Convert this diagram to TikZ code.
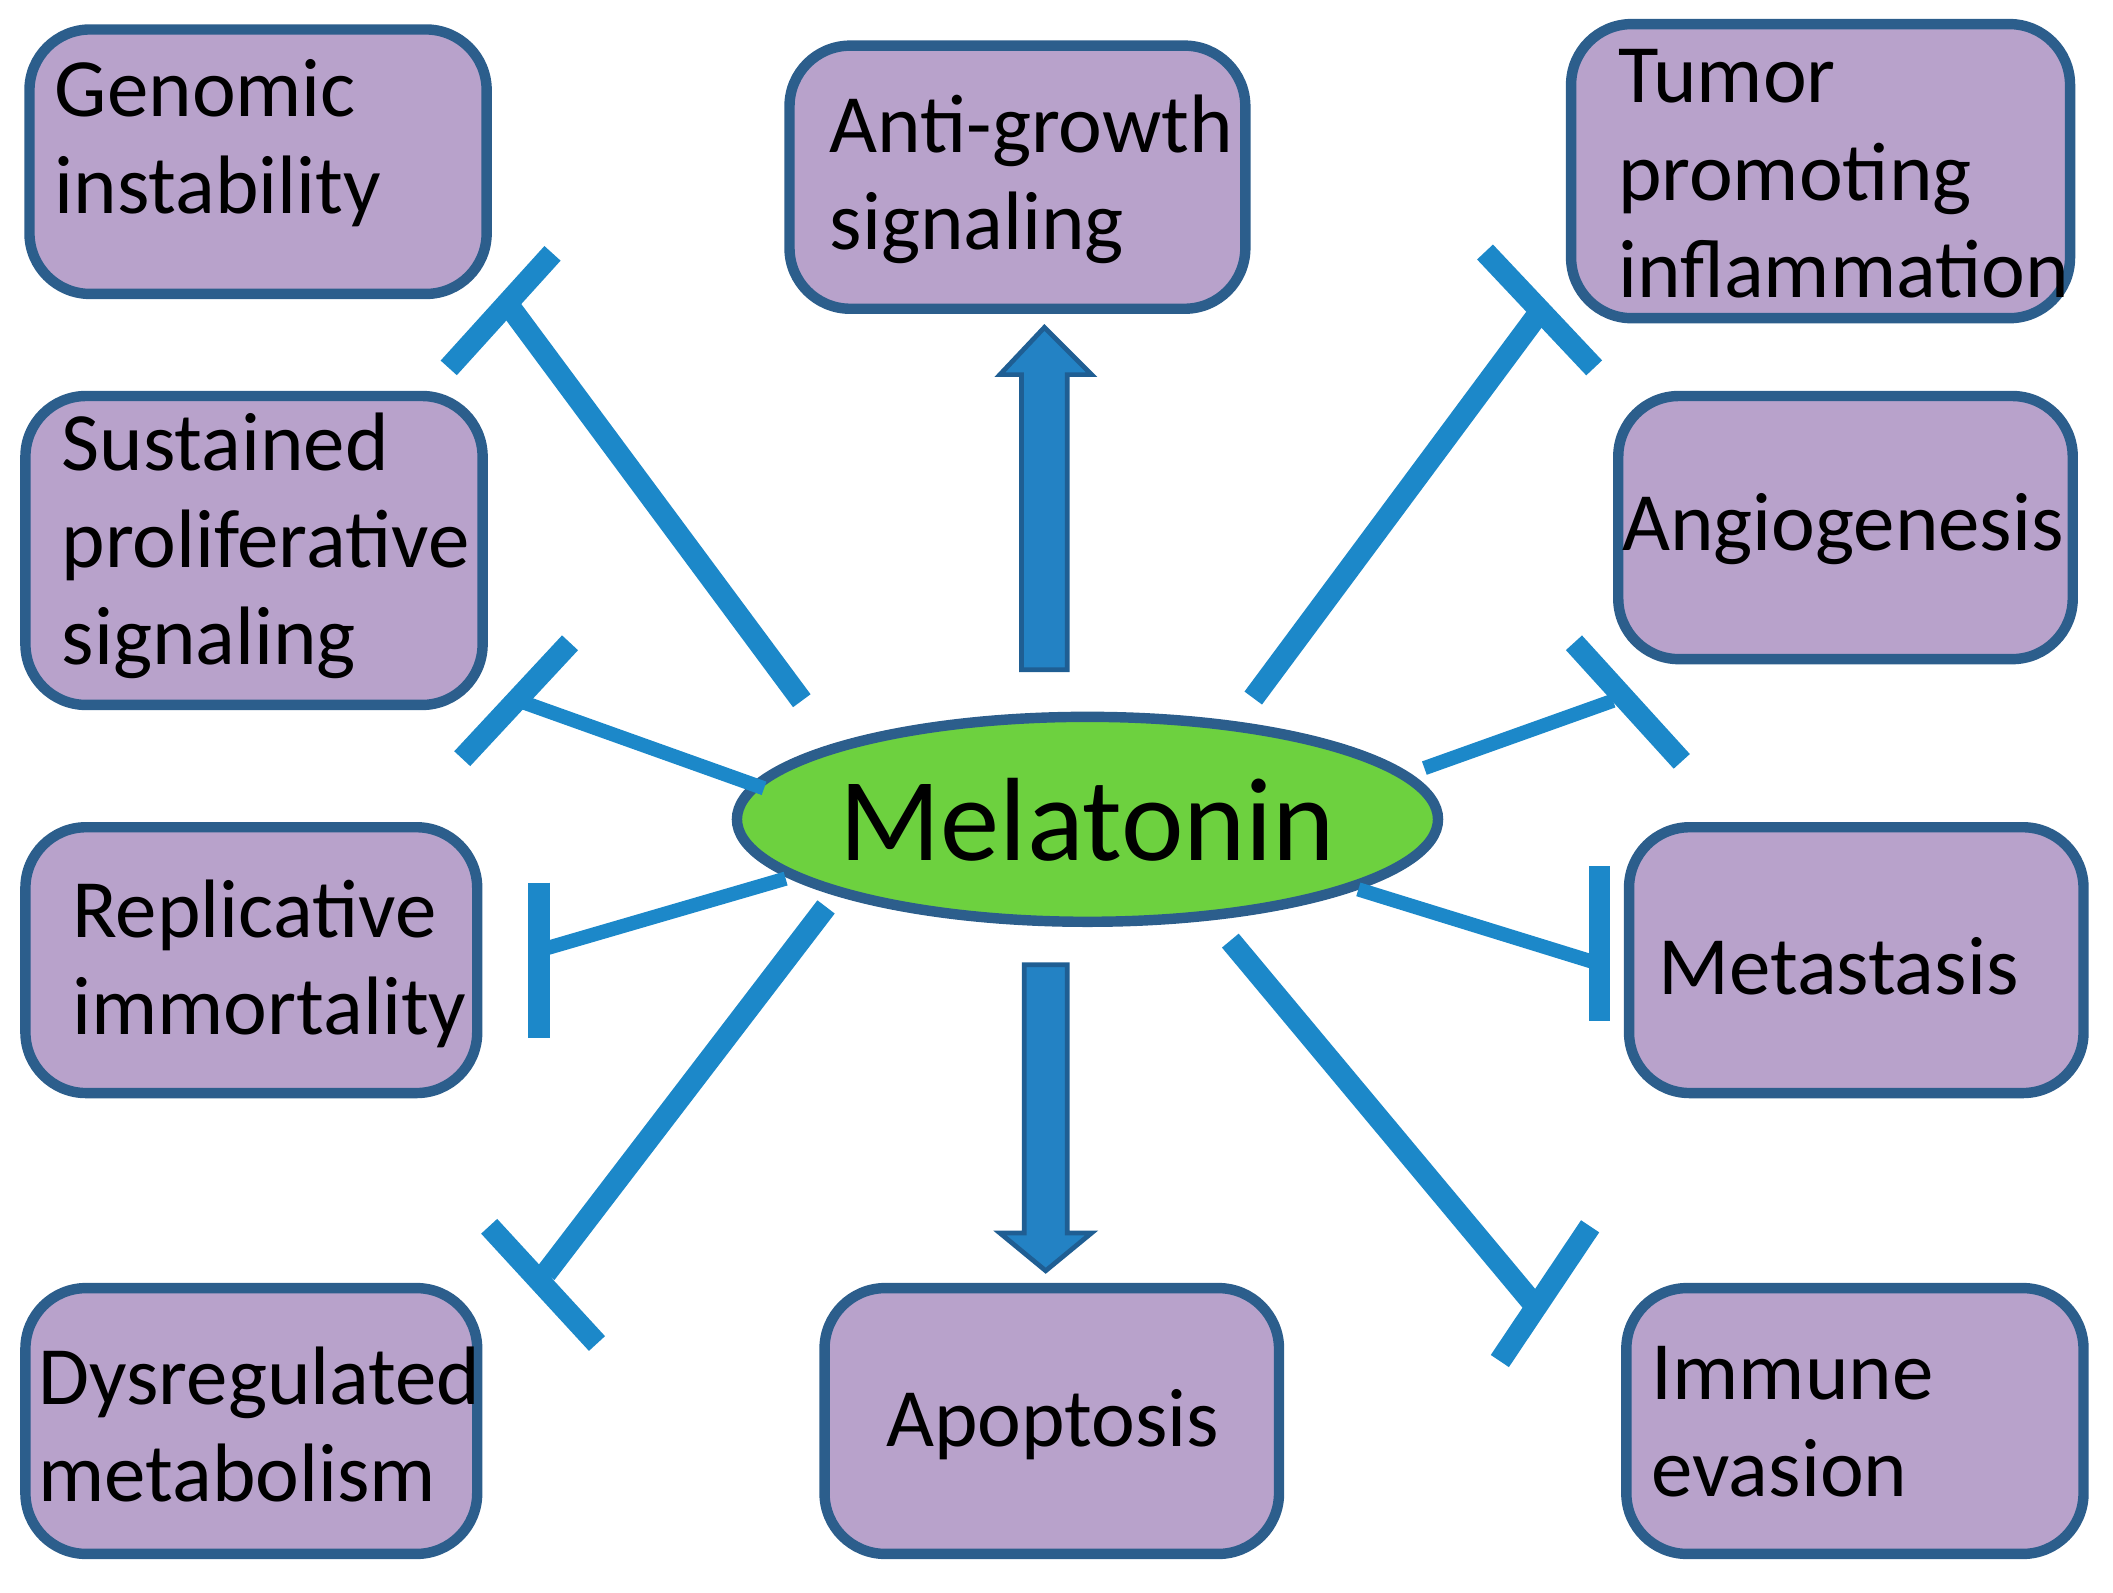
\documentclass[tikz,border=0pt]{standalone}
\usetikzlibrary{shapes.geometric}
\usepackage{fontspec}
\setmainfont{Carlito}
\begin{document}
\begin{tikzpicture}[x=0.01cm,y=-0.01cm,
 box/.style={draw=boxb,line width=2.2pt,fill=boxf,rounded corners=0.45cm,inner sep=0},
 txt/.style={anchor=west,align=left,font=\fontsize{17.5pt}{20.5pt}\selectfont,inner sep=0},
 inh/.style={draw=lineb,line width=4.6pt},
 inht/.style={draw=lineb,line width=3pt}]
\definecolor{boxf}{HTML}{B8A2CB}
\definecolor{boxb}{HTML}{2C5E8C}
\definecolor{lineb}{HTML}{1C88C9}
\definecolor{arrf}{HTML}{2382C4}
\definecolor{arrb}{HTML}{1F5E93}
\definecolor{ellf}{HTML}{6DD13F}
\useasboundingbox (0,0) rectangle (1568,1182);
\newcommand\bx[5]{\node[box,minimum width=#3*0.01cm-2.2pt,minimum height=#4*0.01cm-2.2pt,anchor=north west] (#5) at (#1,#2) {};}
\bx{18}{18}{347}{204}{gen}
\bx{582}{30}{346}{203}{anti}
\bx{1162}{14}{378}{226}{tum}
\bx{15}{290}{347}{237}{sus}
\bx{1197}{290}{345}{203}{ang}
\bx{15}{610}{343}{205}{rep}
\bx{1205}{610}{345}{205}{met}
\bx{15}{952}{343}{205}{dys}
\bx{608}{952}{345}{205}{apo}
\bx{1203}{952}{347}{205}{imm}
\node[txt] (tgen) at (40,106) {Genomic\\instability};
\node[txt] (tanti) at (615,133) {Anti-growth\\signaling};
\node[txt] (ttum) at (1200,129) {Tumor\\promoting\\inflammation};
\node[txt] (tsus) at (45,405) {Sustained\\proliferative\\signaling};
\node[txt] (tang) at (1203,393) {Angiogenesis};
\node[txt] (trep) at (53,715) {Replicative\\immortality};
\node[txt] (tmet) at (1230,717) {Metastasis};
\node[txt] (tdys) at (28,1057) {Dysregulated\\metabolism};
\node[txt] (tapo) at (657,1057) {Apoptosis};
\node[txt] (timm) at (1225,1055) {Immune\\evasion};
\node[draw=boxb,line width=2.2pt,fill=ellf,ellipse,minimum width=4.64cm,minimum height=1.52cm,inner sep=0,font=\fontsize{25pt}{30pt}\selectfont] (mel) at (807,608) {Melatonin};
% inhibition connectors
\coordinate (g1) at (595,520); \coordinate (g2) at (380,230); \coordinate (gb1) at (333,273); \coordinate (gb2) at (410,188);
\draw[inh] (g1)--(g2); \draw[inh] (gb1)--(gb2);
\coordinate (s1) at (567,585); \coordinate (s2) at (385,520); \coordinate (sb1) at (343,563); \coordinate (sb2) at (423,477);
\draw[inht] (s1)--(s2); \draw[inh] (sb1)--(sb2);
\coordinate (r1) at (583,652); \coordinate (r2) at (401,705); \coordinate (rb1) at (400,655); \coordinate (rb2) at (400,770);
\draw[inht] (r1)--(r2); \draw[inh] (rb1)--(rb2);
\coordinate (d1) at (613,673); \coordinate (d2) at (405,945); \coordinate (db1) at (363,910); \coordinate (db2) at (443,997);
\draw[inh] (d1)--(d2); \draw[inh] (db1)--(db2);
\coordinate (t1) at (930,518); \coordinate (t2) at (1140,235); \coordinate (tb1) at (1102,187); \coordinate (tb2) at (1183,273);
\draw[inh] (t1)--(t2); \draw[inh] (tb1)--(tb2);
\coordinate (a1) at (1057,570); \coordinate (a2) at (1197,520); \coordinate (ab1) at (1168,477); \coordinate (ab2) at (1248,565);
\draw[inht] (a1)--(a2); \draw[inh] (ab1)--(ab2);
\coordinate (m1) at (1008,660); \coordinate (m2) at (1186,715); \coordinate (mb1) at (1187,643); \coordinate (mb2) at (1187,758);
\draw[inht] (m1)--(m2); \draw[inh] (mb1)--(mb2);
\coordinate (i1) at (913,698); \coordinate (i2) at (1140,970); \coordinate (ib1) at (1180,910); \coordinate (ib2) at (1113,1010);
\draw[inh] (i1)--(i2); \draw[inh] (ib1)--(ib2);
% block arrows
\draw[arrb,fill=arrf,line width=1pt] (758,497)--(758,278)--(742,278)--(775,243)--(810,278)--(792,278)--(792,497)--cycle;
\draw[arrb,fill=arrf,line width=1pt] (760,716)--(760,915)--(742,915)--(776,943)--(810,915)--(792,915)--(792,716)--cycle;
\end{tikzpicture}
\end{document}
